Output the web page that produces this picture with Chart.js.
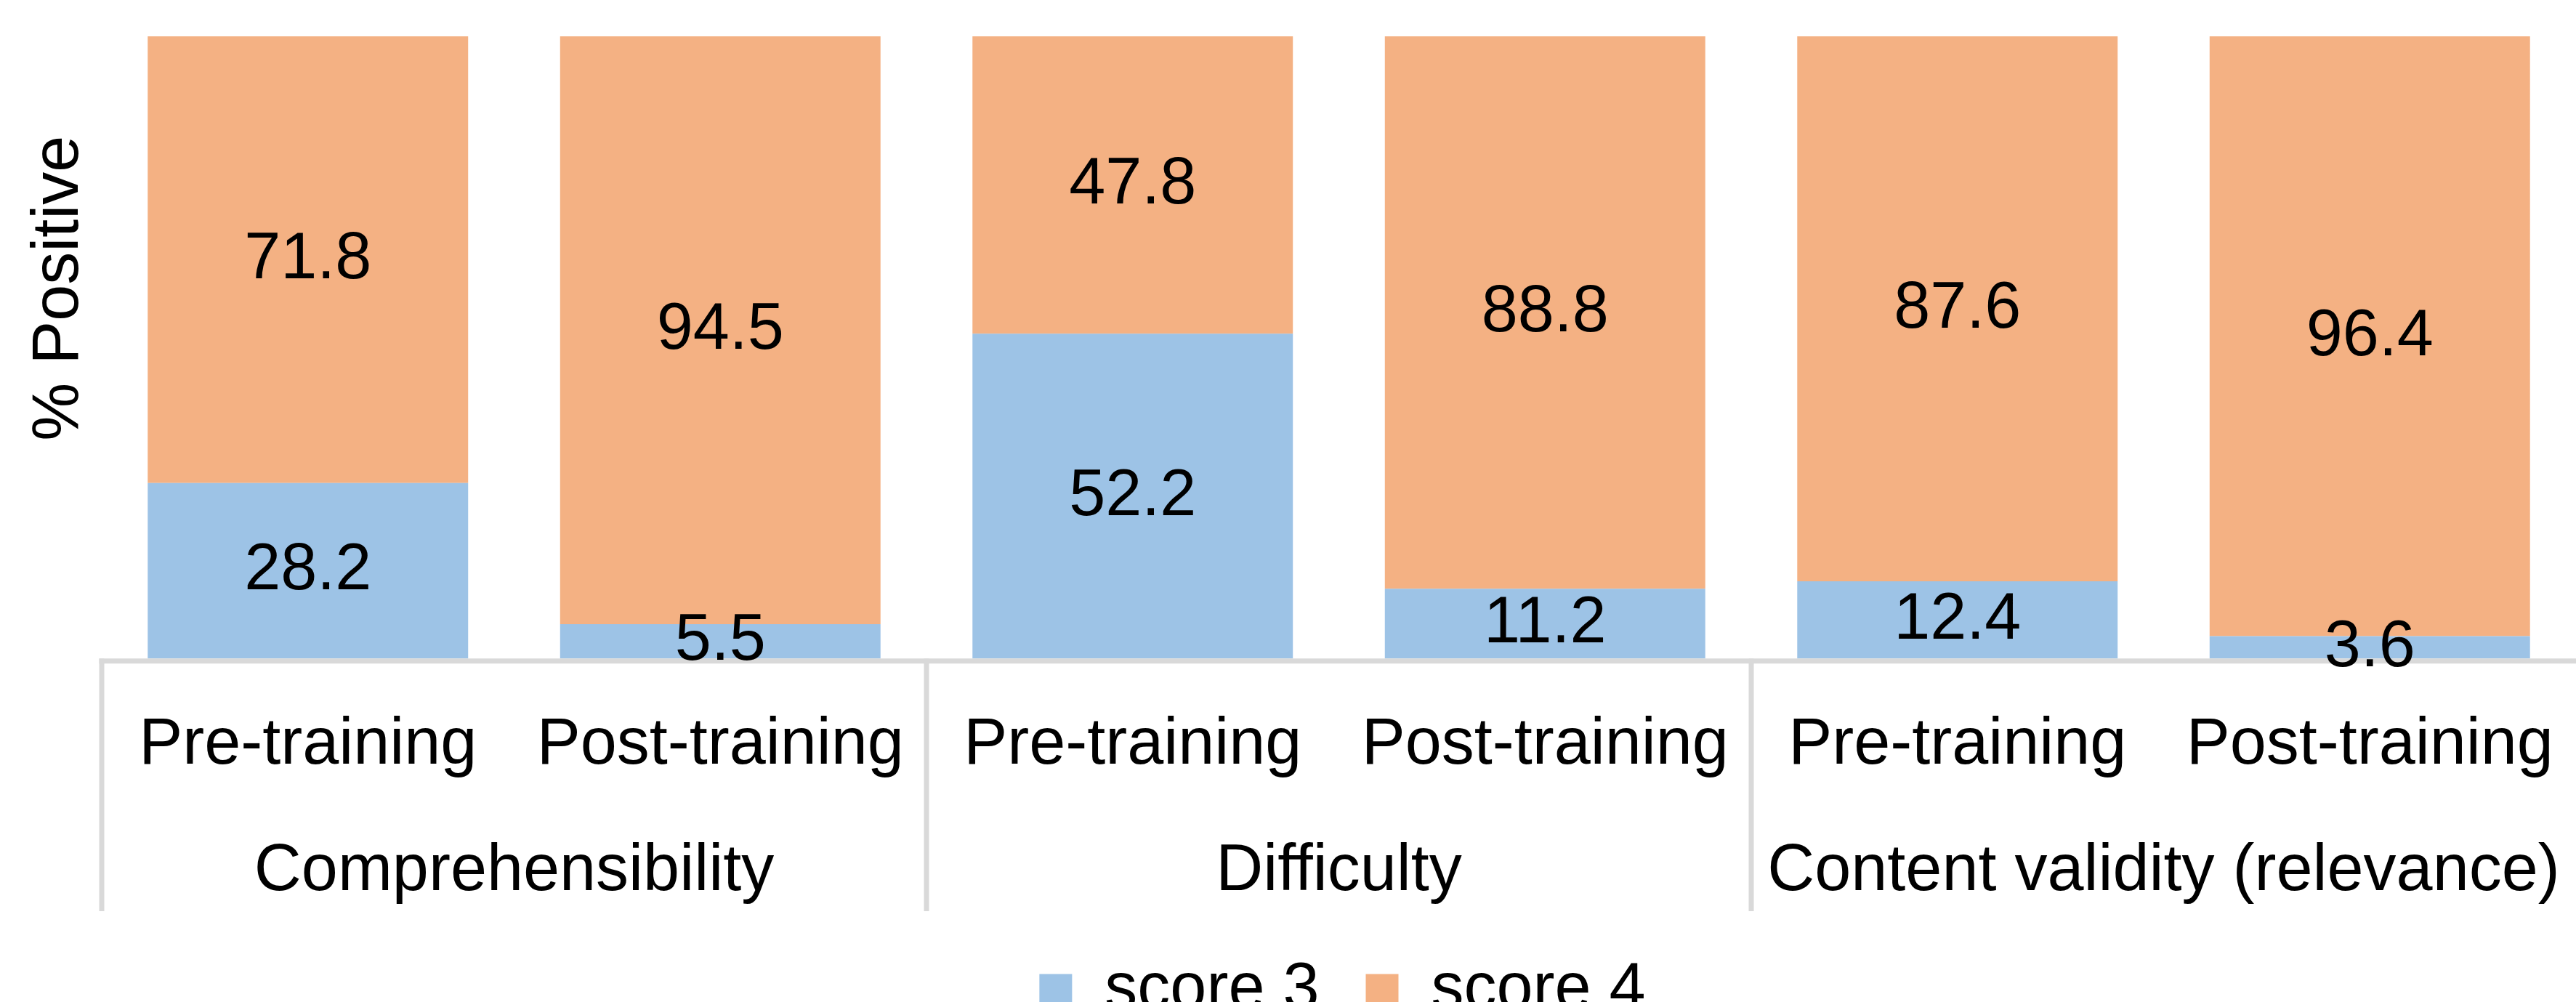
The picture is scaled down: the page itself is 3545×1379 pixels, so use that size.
<!DOCTYPE html>
<html>
<head>
<meta charset="utf-8">
<script src="https://cdn.jsdelivr.net/npm/chart.js@4/dist/chart.umd.min.js"></script>
<style>
  html, body { margin: 0; padding: 0; background: #fff; overflow: hidden; }
  #wrap { width: 3545px; height: 1379px; position: relative; }
</style>
</head>
<body>
<div id="wrap"><canvas id="chart"></canvas></div>
<script>
const tickLabels = ['Pre-training', 'Post-training', 'Pre-training', 'Post-training', 'Pre-training', 'Post-training'];
const groupLabels = ['Comprehensibility', 'Difficulty', 'Content validity (relevance)'];
const score3 = [28.2, 5.5, 52.2, 11.2, 12.4, 3.6];
const score4 = [71.8, 94.5, 47.8, 88.8, 87.6, 96.4];
const yTitle = '% Positive';

const FONT = '"Liberation Sans", Arial, sans-serif';
const LINE = '#D9D9D9';

// axis line, group dividers, value labels and the y title
const decorations = {
    id: 'decorations',
    afterDatasetsDraw(chart) {
        const ctx = chart.ctx;
        const x = chart.scales.x;
        const x2 = chart.scales.x2;
        const area = chart.chartArea;

        ctx.save();
        ctx.strokeStyle = LINE;
        ctx.lineWidth = 7;
        ctx.beginPath();
        ctx.moveTo(x.left - 3.5, area.bottom + 3.5);
        ctx.lineTo(x.right, area.bottom + 3.5);
        ctx.stroke();

        // separators between the groups, the last one falls off the canvas
        const groupWidth = x.width / groupLabels.length;
        for (let g = 0; g <= groupLabels.length; g++) {
            const px = x.left + g * groupWidth;
            if (px > chart.width - 4) continue;
            ctx.beginPath();
            ctx.moveTo(px, area.bottom);
            ctx.lineTo(px, x2.bottom);
            ctx.stroke();
        }

        ctx.fillStyle = '#000';
        ctx.font = `90px ${FONT}`;
        ctx.textAlign = 'center';
        ctx.textBaseline = 'middle';
        chart.data.datasets.forEach((ds, i) => {
            chart.getDatasetMeta(i).data.forEach((bar, j) => {
                const { x: bx, y: by, base } = bar.getProps(['x', 'y', 'base'], true);
                ctx.fillText(ds.data[j].toFixed(1), bx, (by + base) / 2 + 1);
            });
        });

        const ty = area.top + (area.bottom - area.top) * 0.405;
        ctx.translate(107, ty);
        ctx.rotate(-Math.PI / 2);
        ctx.textBaseline = 'alphabetic';
        ctx.fillText(yTitle, 0, 0);
        ctx.restore();
    }
};

function renderChart() {
    const canvas = document.getElementById('chart');
    new Chart(canvas, {
        type: 'bar',
        data: {
            labels: tickLabels,
            datasets: [
                { label: 'score 3', data: score3, backgroundColor: '#9DC3E6', borderWidth: 0 },
                { label: 'score 4', data: score4, backgroundColor: '#F4B183', borderWidth: 0 }
            ]
        },
        options: {
            responsive: true,
            maintainAspectRatio: false,
            animation: false,
            events: [],
            layout: { padding: { top: 50, left: 140, right: -10, bottom: -39 } },
            datasets: { bar: { categoryPercentage: 1, barPercentage: 0.777 } },
            plugins: {
                legend: {
                    position: 'bottom',
                    labels: {
                        color: '#000',
                        font: { family: FONT, size: 90 },
                        boxWidth: 45,
                        boxHeight: 45,
                        padding: 64
                    }
                },
                tooltip: { enabled: false }
            },
            scales: {
                x: {
                    stacked: true,
                    position: 'bottom',
                    weight: 0,
                    grid: { display: false },
                    border: { display: false },
                    ticks: {
                        color: '#000',
                        font: { family: FONT, size: 90, lineHeight: 1.82 },
                        padding: 30,
                        maxRotation: 0,
                        autoSkip: false
                    }
                },
                x2: {
                    type: 'category',
                    labels: groupLabels,
                    offset: true,
                    position: 'bottom',
                    weight: 1,
                    grid: { display: false },
                    border: { display: false },
                    ticks: {
                        color: '#000',
                        font: { family: FONT, size: 90 },
                        padding: 0,
                        maxRotation: 0,
                        autoSkip: false
                    }
                },
                y: {
                    stacked: true,
                    display: false,
                    min: 0,
                    max: 100
                }
            }
        },
        plugins: [decorations]
    });
}

document.addEventListener('DOMContentLoaded', renderChart);
</script>
</body>
</html>
